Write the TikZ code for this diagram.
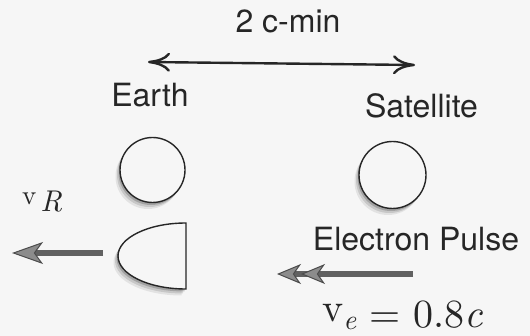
\documentclass[tikz,border=0pt]{standalone}
\usepackage{fontspec}
\newfontfamily\heros{TeX Gyre Heros}
\newfontfamily\lmr{lmroman10-regular}[Extension=.otf, ItalicFont=lmroman10-italic]
\usetikzlibrary{arrows.meta,shadows}
\definecolor{paper}{gray}{0.965}
\definecolor{ink}{gray}{0.15}
\definecolor{shaftgray}{gray}{0.38}
\definecolor{headgray}{gray}{0.55}
\definecolor{headedge}{gray}{0.30}
\begin{document}
\begin{tikzpicture}[x=1pt,y=-1pt,
  lab/.style={font={\heros\fontsize{32}{38}\selectfont}, text=ink, inner sep=0pt},
  body/.style={draw=ink, line width=1.4pt, fill=paper},
  soft/.style={
    drop shadow={shadow xshift=-1.5pt,shadow yshift=-2.5pt,opacity=.18,fill=black},
    drop shadow={shadow xshift=-3pt,shadow yshift=-4.5pt,opacity=.12,fill=black},
    drop shadow={shadow xshift=-4.5pt,shadow yshift=-6.5pt,opacity=.08,fill=black}},
  dimarrow/.style={draw=ink, line width=2.4pt,
    {Computer Modern Rightarrow[length=22pt,width=19pt]}-{Computer Modern Rightarrow[length=22pt,width=19pt]}},
  grayarrow/.style={draw=shaftgray, line width=5.5pt},
  formula/.style={anchor=base west, inner sep=0pt, text=ink, font=\lmr}
]
\useasboundingbox (0,0) rectangle (530,336);
\fill[paper] (0,0) rectangle (530,336);

% labels
\node[lab, anchor=base] (dist) at (288,33) {2 c-min};
\node[lab, anchor=base] (earth) at (150,107) {Earth};
\node[lab, anchor=base] (sat) at (421.5,118) {Satellite};
\node[lab, anchor=base] (pulse) at (416,251) {Electron Pulse};

% distance arrow
\coordinate (dl) at (148,62);
\coordinate (dr) at (415,65);
\draw[dimarrow] (dl) -- (dr);

% earth and satellite
\node[circle, minimum size=65pt, inner sep=0pt, body, soft] (earthc) at (152.5,170) {};
\node[circle, minimum size=67pt, inner sep=0pt, body, soft] (satc) at (392.5,175) {};

% detector (D shape)
\path[body, soft] (186,223) -- (186,289)
  arc[start angle=90, end angle=270, x radius=68, y radius=33] -- cycle;
\coordinate (det) at (155,256);

% recoil velocity arrow
\coordinate (vRs) at (103,253);
\coordinate (vRe) at (12,253);
\draw[grayarrow, -{Stealth[length=31pt,width=22pt,inset=8pt,line width=1pt,fill=headgray,color=headedge]}] (vRs) -- (vRe);

% electron pulse arrow
\coordinate (ps) at (413,274);
\coordinate (pe) at (277,274);
\draw[grayarrow, -{Stealth[length=24pt,width=20pt,inset=7pt,line width=1pt,fill=headgray,color=headedge] Stealth[length=24pt,width=20pt,inset=7pt,line width=1pt,fill=headgray,color=headedge]}] (ps) -- (pe);

% formula labels
\node[formula] (vR) at (22,212)
  {\fontsize{30}{36}\selectfont\raisebox{7pt}{\fontsize{27}{32}\selectfont v}\hspace{4pt}\textit{R}};
\node[formula] (ve) at (322,327.5)
  {\fontsize{40}{48}\selectfont\raisebox{6pt}{v}\raisebox{-2pt}{\fontsize{28}{32}\selectfont\textit{e}}\hspace{13pt}=\hspace{13pt}0.8\textit{c}};
\end{tikzpicture}
\end{document}
